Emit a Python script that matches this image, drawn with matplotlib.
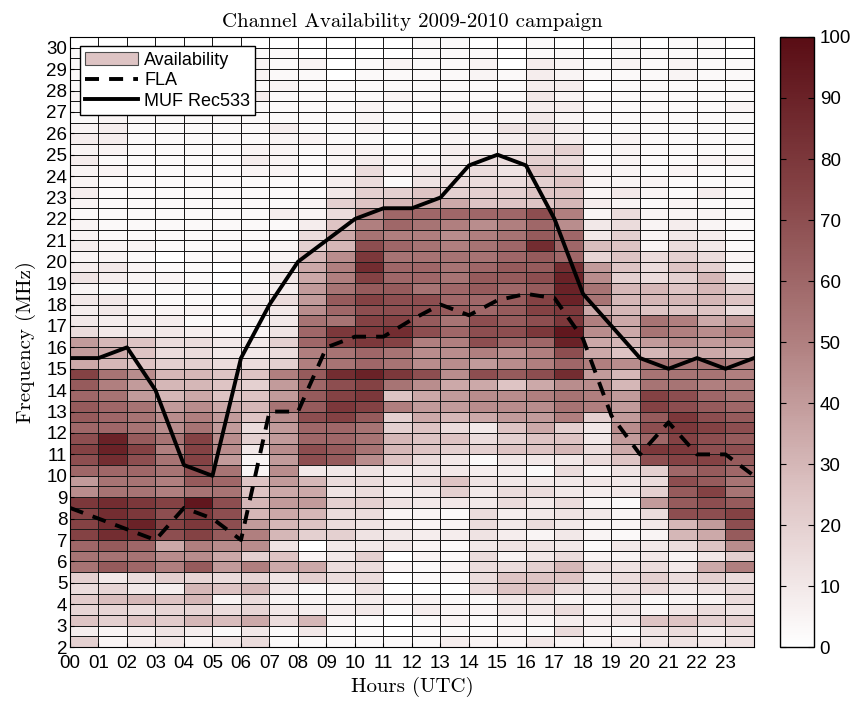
import numpy as np
import matplotlib
matplotlib.use("Agg")
import matplotlib.pyplot as plt
from matplotlib.colors import LinearSegmentedColormap
from matplotlib.patches import Patch
from matplotlib.lines import Line2D

plt.rcParams['font.family'] = ['Liberation Sans', 'DejaVu Sans']

hours = np.arange(0, 25)          # cell edges along x (UTC hours)
freqs = np.arange(2.0, 31.0, 0.5)  # cell edges along y (MHz), 2.0 ... 30.5
hour_labels = ['%02d' % h for h in range(24)]
freq_ticks = list(range(2, 31))

# availability (%) per 0.5 MHz band, bottom row = 2.0-2.5 MHz, columns = 00..23 UTC
availability = [
    [20, 5, 8, 10, 5, 10, 15, 3, 3, 3, 3, 3, 3, 8, 5, 5, 10, 5, 5, 8, 10, 12, 10, 12],
    [8, 5, 8, 12, 8, 3, 10, 3, 10, 3, 3, 0, 3, 3, 3, 5, 3, 15, 5, 3, 12, 15, 8, 12],
    [25, 20, 25, 22, 30, 28, 35, 15, 30, 5, 3, 0, 3, 5, 3, 5, 5, 8, 8, 10, 25, 25, 20, 20],
    [18, 18, 15, 18, 18, 15, 18, 10, 8, 8, 10, 3, 8, 5, 5, 10, 10, 15, 5, 10, 5, 10, 15, 12],
    [22, 28, 30, 25, 30, 5, 15, 5, 5, 5, 8, 5, 5, 3, 3, 10, 10, 5, 5, 10, 3, 5, 5, 15],
    [15, 18, 10, 8, 30, 25, 30, 10, 3, 5, 12, 0, 0, 0, 15, 25, 25, 15, 10, 12, 15, 10, 12, 15],
    [20, 10, 15, 20, 18, 15, 18, 12, 20, 15, 15, 0, 3, 3, 15, 25, 25, 25, 10, 15, 20, 15, 20, 15],
    [55, 65, 60, 50, 65, 40, 50, 35, 35, 15, 15, 5, 3, 5, 15, 15, 20, 30, 15, 12, 15, 10, 35, 50],
    [55, 55, 55, 45, 45, 35, 20, 25, 5, 10, 20, 0, 5, 3, 15, 5, 10, 15, 5, 5, 10, 5, 10, 20],
    [60, 65, 60, 35, 50, 45, 45, 12, 0, 10, 10, 10, 5, 3, 10, 12, 12, 10, 3, 10, 10, 15, 25, 45],
    [75, 85, 85, 70, 75, 65, 50, 30, 20, 20, 12, 10, 8, 8, 12, 8, 5, 10, 5, 3, 5, 30, 35, 65],
    [75, 85, 90, 75, 80, 70, 40, 30, 25, 15, 12, 8, 5, 5, 15, 10, 15, 10, 5, 5, 10, 30, 40, 70],
    [75, 85, 80, 70, 80, 70, 30, 35, 30, 15, 15, 5, 5, 3, 15, 8, 10, 12, 10, 5, 15, 70, 70, 75],
    [80, 85, 80, 75, 95, 70, 30, 40, 40, 20, 20, 12, 10, 10, 10, 15, 10, 15, 5, 3, 40, 65, 70, 65],
    [45, 55, 55, 50, 55, 55, 25, 35, 35, 12, 15, 8, 10, 20, 10, 15, 15, 10, 8, 10, 20, 65, 75, 55],
    [40, 55, 55, 50, 65, 60, 25, 40, 30, 15, 15, 10, 15, 25, 12, 10, 10, 10, 10, 10, 15, 70, 65, 55],
    [60, 60, 60, 55, 70, 55, 5, 45, 10, 10, 12, 8, 10, 10, 8, 8, 3, 15, 5, 12, 20, 60, 65, 60],
    [70, 85, 70, 55, 75, 40, 5, 40, 70, 65, 45, 25, 15, 10, 3, 10, 10, 10, 15, 25, 70, 75, 75, 65],
    [75, 90, 75, 50, 75, 45, 10, 45, 70, 65, 55, 30, 25, 20, 20, 25, 25, 30, 15, 35, 80, 80, 70, 70],
    [70, 90, 65, 55, 75, 45, 20, 40, 60, 60, 55, 30, 25, 25, 15, 20, 25, 25, 10, 40, 60, 75, 70, 65],
    [60, 60, 55, 45, 55, 40, 15, 40, 60, 60, 55, 20, 25, 15, 10, 25, 35, 20, 10, 45, 70, 80, 75, 70],
    [65, 60, 55, 45, 50, 40, 25, 45, 70, 75, 65, 20, 35, 30, 35, 40, 40, 50, 20, 40, 65, 80, 70, 65],
    [65, 60, 55, 40, 45, 35, 30, 55, 65, 80, 75, 50, 40, 40, 45, 45, 45, 55, 50, 40, 75, 70, 65, 60],
    [60, 55, 40, 30, 35, 25, 25, 40, 65, 75, 80, 25, 35, 40, 45, 45, 50, 55, 50, 40, 75, 70, 60, 55],
    [65, 50, 40, 30, 30, 25, 20, 40, 60, 70, 75, 55, 45, 35, 35, 25, 35, 45, 45, 30, 55, 55, 50, 50],
    [75, 55, 45, 30, 30, 25, 25, 50, 65, 85, 90, 80, 70, 45, 70, 65, 70, 85, 40, 30, 55, 55, 55, 50],
    [35, 30, 25, 20, 20, 15, 15, 20, 50, 55, 60, 55, 45, 45, 40, 45, 50, 60, 50, 45, 55, 55, 55, 50],
    [40, 35, 25, 15, 15, 10, 10, 15, 50, 55, 60, 55, 45, 45, 50, 45, 50, 70, 35, 25, 30, 35, 35, 30],
    [40, 30, 25, 15, 15, 10, 10, 20, 60, 75, 80, 75, 50, 50, 70, 60, 60, 90, 35, 30, 40, 45, 40, 40],
    [15, 10, 10, 10, 8, 5, 5, 12, 60, 80, 80, 85, 70, 60, 70, 70, 80, 95, 45, 35, 55, 50, 45, 50],
    [10, 8, 8, 8, 3, 3, 5, 10, 55, 55, 75, 75, 65, 55, 70, 65, 70, 80, 50, 35, 55, 50, 35, 40],
    [8, 10, 5, 5, 5, 3, 10, 10, 45, 60, 70, 70, 70, 65, 60, 65, 75, 80, 35, 30, 25, 25, 25, 15],
    [10, 10, 5, 3, 3, 3, 8, 15, 40, 65, 75, 70, 70, 60, 60, 65, 75, 90, 55, 30, 30, 30, 30, 25],
    [5, 3, 3, 3, 3, 0, 5, 8, 40, 55, 65, 65, 55, 60, 65, 60, 65, 90, 55, 30, 30, 25, 30, 20],
    [12, 8, 5, 5, 3, 0, 3, 10, 35, 50, 75, 60, 60, 55, 65, 65, 70, 90, 45, 20, 15, 20, 30, 10],
    [8, 10, 5, 3, 3, 0, 3, 10, 35, 50, 85, 60, 60, 55, 60, 65, 65, 85, 40, 25, 15, 25, 20, 5],
    [5, 5, 3, 0, 3, 3, 3, 5, 30, 45, 80, 55, 55, 55, 55, 60, 65, 60, 18, 25, 15, 20, 15, 5],
    [8, 5, 5, 3, 3, 3, 3, 5, 20, 30, 70, 60, 55, 50, 55, 60, 85, 60, 28, 25, 5, 15, 10, 3],
    [5, 3, 3, 3, 3, 3, 3, 3, 15, 35, 55, 50, 50, 45, 50, 55, 65, 60, 10, 20, 5, 10, 8, 3],
    [5, 3, 3, 3, 3, 3, 3, 3, 8, 25, 50, 60, 55, 50, 45, 50, 60, 45, 10, 15, 5, 8, 5, 3],
    [3, 3, 3, 3, 3, 3, 3, 8, 5, 15, 45, 60, 60, 60, 60, 60, 70, 50, 5, 15, 5, 5, 5, 3],
    [5, 3, 3, 3, 3, 3, 3, 3, 5, 20, 25, 30, 35, 35, 25, 25, 25, 30, 8, 5, 3, 5, 3, 3],
    [8, 3, 3, 3, 3, 3, 3, 3, 3, 10, 20, 20, 25, 20, 20, 20, 25, 25, 5, 10, 5, 3, 8, 3],
    [5, 3, 3, 3, 3, 3, 3, 3, 3, 8, 15, 3, 12, 15, 15, 15, 20, 25, 5, 5, 5, 3, 3, 3],
    [5, 5, 3, 3, 3, 3, 5, 5, 3, 5, 15, 5, 10, 10, 15, 12, 25, 20, 5, 5, 3, 5, 3, 3],
    [8, 3, 3, 3, 3, 3, 8, 5, 3, 5, 8, 5, 5, 8, 15, 15, 20, 15, 3, 5, 3, 3, 5, 5],
    [5, 5, 3, 3, 3, 3, 5, 5, 3, 5, 5, 3, 3, 8, 8, 12, 15, 20, 3, 5, 3, 3, 3, 3],
    [8, 8, 3, 3, 3, 3, 3, 5, 5, 3, 3, 0, 3, 5, 5, 8, 12, 8, 3, 5, 3, 3, 3, 3],
    [5, 8, 3, 3, 3, 3, 3, 8, 3, 3, 5, 3, 3, 5, 5, 12, 12, 8, 3, 3, 3, 3, 3, 3],
    [3, 5, 3, 3, 3, 3, 3, 3, 3, 3, 5, 3, 0, 5, 5, 5, 10, 5, 3, 3, 3, 3, 3, 3],
    [3, 3, 3, 3, 3, 3, 3, 3, 3, 3, 5, 3, 3, 3, 3, 5, 8, 8, 3, 3, 3, 3, 3, 5],
    [5, 5, 3, 3, 3, 3, 8, 3, 3, 3, 3, 5, 3, 3, 3, 3, 10, 5, 3, 3, 3, 3, 3, 3],
    [3, 3, 3, 3, 3, 3, 3, 5, 3, 3, 3, 3, 3, 3, 3, 3, 8, 8, 0, 3, 3, 3, 3, 3],
    [3, 3, 3, 3, 3, 3, 5, 3, 3, 0, 3, 3, 3, 3, 5, 3, 8, 5, 3, 3, 3, 5, 3, 3],
    [3, 3, 3, 3, 3, 3, 5, 3, 5, 0, 3, 5, 3, 3, 5, 0, 8, 5, 3, 5, 3, 5, 3, 3],
    [3, 3, 3, 3, 3, 3, 3, 3, 0, 0, 0, 0, 3, 3, 3, 0, 3, 3, 0, 3, 3, 3, 3, 0],
    [0, 0, 0, 0, 0, 0, 0, 0, 0, 0, 0, 0, 3, 3, 0, 0, 3, 0, 0, 3, 0, 3, 3, 0],
]

# predicted curves at each hour 00..24
fla = [8.5, 8, 7.5, 7, 8.5, 8, 7, 13, 13, 16, 16.5, 16.5, 17.3, 18, 17.5, 18.2,
       18.5, 18.3, 16.4, 12.8, 11, 12.5, 11, 11, 10]
muf = [15.5, 15.5, 16, 14, 10.5, 10, 15.5, 18, 20, 21, 22, 22.5, 22.5, 23, 24.5, 25,
       24.5, 22, 18.5, 17, 15.5, 15, 15.5, 15, 15.5]

cmap = LinearSegmentedColormap.from_list('avail', [
    (0.00, (1.00, 1.00, 1.00)),
    (0.25, (0.87, 0.77, 0.77)),
    (0.50, (0.69, 0.50, 0.50)),
    (0.75, (0.52, 0.26, 0.27)),
    (1.00, (0.35, 0.05, 0.08)),
])

fig = plt.figure(figsize=(8.62, 7.02), dpi=100)
ax = fig.add_axes([0.0812, 0.0783, 0.7935, 0.869])
cax = fig.add_axes([0.905, 0.0783, 0.0394, 0.869])

Z = np.array(availability, dtype=float)
mesh = ax.pcolormesh(hours, freqs, Z, cmap=cmap, vmin=0, vmax=100,
                     edgecolors='#1a1a1a', linewidth=0.55)

lw = 2.8
ax.plot(hours, fla, color='k', linewidth=lw, dashes=(3.6, 2.6))
ax.plot(hours, muf, color='k', linewidth=lw)

ax.set_xlim(0, 24)
ax.set_ylim(2, 30.5)
ax.set_xticks(range(24))
ax.set_xticklabels(hour_labels)
ax.set_yticks(freq_ticks)
ax.tick_params(labelsize=13.5, direction='in', length=3)
ax.tick_params(axis='x', pad=6)
ax.tick_params(axis='y', pad=2)

ax.set_title('Channel Availability 2009-2010 campaign', family='cmr10', fontsize=15, pad=7)
ax.set_xlabel('Hours (UTC)', family='cmr10', fontsize=15, labelpad=3)
ax.set_ylabel('Frequency (MHz)', family='cmr10', fontsize=15, labelpad=7)

handles = [
    Patch(facecolor=(0.87, 0.77, 0.77), edgecolor=(0.3, 0.3, 0.3), linewidth=0.8),
    Line2D([], [], color='k', linewidth=lw, dashes=(3.6, 2.6)),
    Line2D([], [], color='k', linewidth=lw),
]
leg = ax.legend(handles, ['Availability', 'FLA', 'MUF Rec533'], loc='upper left',
                bbox_to_anchor=(0.0146, 0.985), borderaxespad=0, fontsize=13,
                fancybox=False, framealpha=1, edgecolor='k', handlelength=2.9,
                handletextpad=0.35, labelspacing=0.2, borderpad=0.3)
leg.get_frame().set_linewidth(1.0)

cb = fig.colorbar(mesh, cax=cax, ticks=range(0, 101, 10))
cb.outline.set_linewidth(1.0)
cax.tick_params(labelsize=13.5, direction='in', left=True, right=True, length=4, pad=4)

fig.savefig('out.png', dpi=100)
